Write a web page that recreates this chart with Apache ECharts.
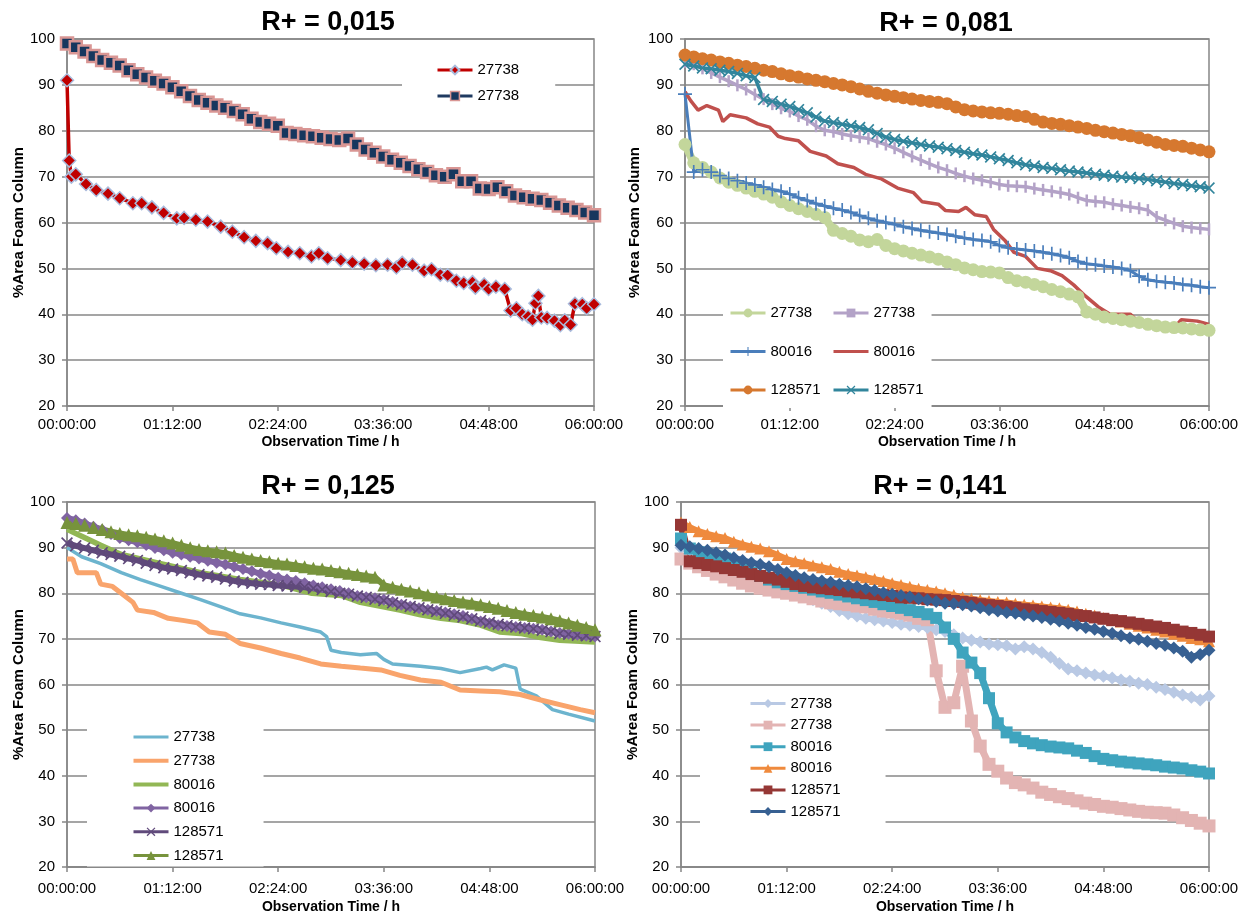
<!DOCTYPE html>
<html>
<head>
<meta charset="utf-8">
<script src="https://cdn.jsdelivr.net/npm/echarts@6/dist/echarts.min.js"></script>
<style>
html,body{margin:0;padding:0;background:#fff;}
#chart{width:1252px;height:918px;}
</style>
</head>
<body>
<div id="chart"></div>
<script>
// ---------- DATA ----------
const panelTitles = ['R+ = 0,015', 'R+ = 0,081', 'R+ = 0,125', 'R+ = 0,141'];
const timeTickLabels = ['00:00:00', '01:12:00', '02:24:00', '03:36:00', '04:48:00', '06:00:00'];
const yAxisTitle = '%Area Foam Column';
const xAxisTitle = 'Observation Time / h';

// shared sampling times (minutes)
const T = [0,6,12,18,24,30,36,42,48,54,
  60,66,72,78,84,90,96,102,108,114,
  120,126,132,138,144,150,156,162,168,174,
  180,186,192,198,204,210,216,222,228,234,
  240,246,252,258,264,270,276,282,288,294,
  300,306,312,318,324,330,336,342,348,354,
  360];

// Panel 1
const p1RedT = [0,1.5,3,6,13,20,28,36,45,51, 58,66,75,80,88,96,105,113,121,129,
  137,143,151,159,167,172,178,187,195,203, 211,219,225,229,236,244,249,255,260,266,
  271,277,279,285,288,293,299,303,307,311, 315,318,320,322,324,328,333,337,340,344,
  347,352,355,360];
const p1RedV = [91,73.5,70,70.5,68.4,67.1,66.3,65.3,64.2,64.2, 63.3,62.1,60.9,61,60.6,60.2,59.1,58,56.8,56,
  55.5,54.4,53.6,53.3,52.6,53.3,52.2,51.8,51.3,51, 50.7,50.8,50.2,51.2,50.8,49.5,49.8,48.6,48.5,47.3,
  46.8,47,45.8,46.5,45.5,46,45.5,40.8,41.3,40, 39.5,38.8,42.4,44,39.3,39.2,38.6,37.6,38.7,37.7,
  42.3,42.2,41.3,42.2];
const p1Navy = [99,98.2,97.3,96.3,95.4,94.8,94.2,93.2,92.3,91.6,
  90.9,90.3,89.5,88.6,87.6,86.7,86.1,85.5,85,84.3,
  83.6,82.6,81.9,81.5,81.1,79.5,79.3,79,78.8,78.5,
  78.2,78,78.3,77,75.9,75.2,74.4,73.7,73,72.3,
  71.6,71,70.3,70,70.5,69,69,67.4,67.3,67.7,
  66.8,65.9,65.5,65.2,64.9,64.3,63.7,63.2,62.7,62.2,
  61.6];

// Panel 2
const p2Green = [77,73,72,71,69.7,68.8,68.1,67.5,66.8,66.2,
  65.5,64.5,63.7,63,62.4,61.8,61.1,58.3,57.6,57,
  56.2,55.8,56.3,55,54.3,53.8,53.3,52.9,52.5,52,
  51.4,50.8,50.1,49.7,49.3,49.2,49,48,47.3,47,
  46.5,46,45.4,44.9,44.4,43.8,40.5,40,39.4,39.1,
  38.8,38.5,38.2,37.8,37.5,37.2,37.1,37,36.8,36.6,
  36.5];
const p2Lilac = [95,94.5,93.6,92.6,91.7,90.8,89.9,89,87.9,86.9,
  85.8,84.9,84.2,83.2,82.4,81,80.1,79.8,79.3,78.9,
  78.6,78.3,77.6,77,76.2,75.3,74.4,73.6,72.8,72,
  71.4,70.7,70.1,69.6,69.2,68.8,68.3,68,67.9,67.8,
  67.4,67.1,66.8,66.5,66.1,65.4,64.8,64.6,64.4,64,
  63.7,63.4,63.1,62.7,61.2,60.5,59.8,59.2,58.9,58.7,
  58.5];
const p2Blue = [88,71,71.5,71,70.2,69.6,69.1,68.6,68.2,67.7,
  67.2,66.8,66.2,65.4,64.8,64.1,63.6,63.1,62.7,62.2,
  61.5,60.9,60.4,60,59.6,59.1,58.7,58.3,58,57.7,
  57.4,57,56.6,56.3,56.1,55.8,55,54.5,54.2,54,
  53.8,53.5,53.2,52.8,52.3,51.5,51,50.8,50.5,50.3,
  50,49.5,48.3,47.5,47.2,47,46.8,46.5,46.3,46,
  45.8];
const p2RedT = [0,4,9,15,23,26,31,42,50,58, 64,69,78,86,97,105,116,124,135,146,
  157,163,174,179,188,193,199,207,212,220, 226,234,242,251,259,267,275,284,292,306,
  311,317,328,336,341,352,360];
const p2RedV = [88.5,86.5,84.5,85.5,84.5,82,83.5,82.8,81.5,80.8, 78.8,78.3,77.8,75.5,74.5,72.8,72,70.5,69.5,67.5,
  66.5,64.5,64,62.6,62.4,63.3,61.7,61.3,58.5,56, 53.5,52.6,50,49.5,48.4,46.4,44,41.6,40,40,
  38.5,38,37.3,37,38.8,38.5,37.8];
const p2Orange = [96.5,96.1,95.7,95.4,95,94.7,94.3,94,93.6,93.2,
  92.9,92.4,92,91.7,91.3,91,90.7,90.3,90,89.6,
  89.1,88.6,88.2,87.8,87.5,87.2,86.9,86.6,86.4,86.2,
  85.9,85.2,84.6,84.3,84.1,83.9,83.8,83.6,83.3,83.1,
  82.5,81.9,81.6,81.4,81.1,80.8,80.5,80.1,79.8,79.5,
  79.2,78.9,78.5,78,77.5,77,76.8,76.6,76.2,75.8,
  75.4];
const p2Teal = [94.5,94.1,93.7,93.5,93.2,92.9,92.5,92,91.6,86.8,
  86.4,85.8,85.3,84.6,83.9,83,82.1,81.8,81.4,81.1,
  80.7,80.2,79.4,78.6,78.1,77.7,77.4,77,76.7,76.4,
  76.1,75.7,75.3,75,74.7,74.3,73.9,73.5,73,72.6,
  72.3,72,71.8,71.5,71.2,71,70.8,70.5,70.3,70.1,
  69.9,69.8,69.6,69.4,69.1,68.8,68.5,68.3,68,67.8,
  67.5];

// Panel 3
const p3LBlueT = [0,10,23,37,50,64,78,91,105,118, 132,146,159,173,177,180,187,200,211,216,
  222,241,255,268,282,286,290,298,306,309, 320,331,342,360];
const p3LBlueV = [90,88,86.5,84.5,83,81.5,80,78.6,77,75.5, 74.6,73.5,72.6,71.5,70.5,67.5,67,66.5,66.8,65.5,
  64.5,64,63.5,62.6,63.5,63.8,63.2,64.3,63.6,59, 57.5,54.5,53.5,52];
const p3OrangeT = [0,4,7,20,23,31,37,45,48,59, 69,80,89,97,108,118,132,146,159,173,
  187,200,214,227,241,255,268,282,295,309, 323,336,350,360];
const p3OrangeV = [87.5,87.5,84.5,84.5,82,81.5,80,78,76.3,75.8, 74.5,74,73.5,71.5,71,69,68,66.8,65.8,64.5,
  64,63.6,63.2,62,61,60.5,58.8,58.6,58.4,57.8, 56.6,55.6,54.5,53.8];
const p3GreenT = [0,10,23,37,64,91,118,146,167,187,200,227,241,255,268,282,295,309,323,336,360];
const p3GreenV = [94,92.5,90.5,88.5,86.5,84.5,83,81.8,80,79.5,78,76.3,75.3,74.5,74,73,71.5,71.2,70.3,69.7,69.3];
const p3Purple = [96.5,96,95.3,94.6,93.9,93,92.1,91.6,91.2,90.6,
  89.9,89.4,88.9,88.5,88,87.6,87.1,86.7,86.3,85.8,
  85.3,84.8,84.3,83.9,83.4,83,82.7,82.2,81.7,81.3,
  80.9,80.5,80,79.4,79.1,78.9,78.6,78.1,77.5,77.1,
  76.7,76.4,76.1,75.8,75.4,75,74.4,73.8,73.4,73,
  72.8,72.6,72.4,72.2,72,71.6,71.3,71.1,70.9,70.7,
  70.5];
const p3DPurple = [91,90.4,89.9,89.4,88.9,88.5,88.1,87.6,87.2,86.6,
  86.1,85.6,85.3,85,84.5,84.1,83.8,83.5,83.1,82.7,
  82.4,82.2,82,81.9,81.7,81.6,81.5,81.3,81.1,80.8,
  80.4,80,79.8,79.4,79.1,78.7,78.4,77.9,77.5,77.1,
  76.8,76.4,76,75.6,75.2,74.8,74.4,74,73.6,73.2,
  72.9,72.6,72.4,72.2,71.9,71.6,71.2,71,70.8,70.7,
  70.5];
const p3Olive = [95.5,95.3,94.9,94.4,94,93.5,93.1,92.8,92.6,92.3,
  91.9,91.5,91,90.5,90,89.6,89.3,89.1,88.8,88.3,
  87.9,87.5,87.2,86.9,86.6,86.4,86.1,85.8,85.5,85.3,
  85,84.7,84.4,84.1,83.8,83.5,81.8,81.3,80.9,80.5,
  80.1,79.6,79.2,78.8,78.4,78.1,77.8,77.5,77.1,76.7,
  76.2,75.8,75.4,75.1,74.8,74.4,74,73.5,73,72.5,
  72];

// Panel 4
const p4Gray = [90,89.5,89,88.4,87.5,86.6,85.5,84.3,83.6,82.9,
  82.2,81.6,81,80.2,79.4,78.6,77.8,77.1,76.2,75.5,
  75,74.5,74.2,73.9,73.6,73.2,73,72.7,72.5,72,
  71.6,70.9,70.2,69.7,69.3,68.9,68.7,68.5,67.8,68.3,
  67.8,67,66,64.6,63.4,63,62.5,62.1,61.8,61.4,
  61,60.7,60.3,60,59.4,58.9,58.3,57.7,57.2,56.6,
  57.5];
const p4Pink = [87.5,86.6,85.8,85,84.2,83.6,82.9,82.2,81.6,81.1,
  80.7,80.3,80,79.6,79.2,78.8,78.3,77.9,77.7,77.5,
  77.2,77,76.5,76.1,75.9,75.6,75.2,74.5,74.2,63,
  55,56,64,52,46.5,42.5,41,39.5,38.5,38,
  37.3,36.4,35.9,35.4,35,34.5,34,33.7,33.3,33.1,
  32.8,32.5,32.2,32,31.9,31.8,31.4,30.8,30.2,29.6,
  29];
const p4Teal = [92,89.8,89,88.4,88,87.6,86.4,85.3,84.5,83.8,
  83,82.4,82,81.6,81.2,80.8,80.4,80.1,79.7,79.3,
  78.9,78.5,78.1,77.6,77.2,76.8,76.3,75.9,75.4,74.6,
  72.5,70,67,64.8,62.5,57,51.5,49.5,48.4,47.6,
  47.1,46.7,46.4,46.2,46,45.5,45,44.3,43.7,43.4,
  43.1,42.9,42.7,42.5,42.3,42,41.8,41.6,41.2,40.9,
  40.5];
const p4Orange = [95.5,94.5,93.6,93,92.5,92.1,91.3,90.7,90.2,89.8,
  89.2,88.4,87.5,87,86.6,86.1,85.7,85.3,84.7,84.2,
  83.9,83.5,83.1,82.7,82.2,81.8,81.4,81,80.7,80.4,
  80,79.6,79.1,78.8,78.5,78.3,78.1,78,77.7,77.5,
  77.3,77.1,76.9,76.7,76.4,76,75.5,75.1,74.6,74.2,
  73.8,73.3,72.9,72.5,72,71.6,71.1,70.7,70.2,69.9,
  69.5];
const p4DRed = [95,87,86.6,86.2,85.9,85.5,85.1,84.7,84.2,83.8,
  83.4,83,82.5,82,81.6,81.3,81.1,80.9,80.7,80.4,
  80.2,80,79.8,79.6,79.4,79.1,79,78.9,78.7,78.6,
  78.5,78.3,78.1,77.9,77.6,77.4,77.2,77,76.8,76.5,
  76.3,76.1,75.9,75.7,75.5,75.2,75,74.7,74.4,74.1,
  73.9,73.6,73.3,73,72.7,72.4,72,71.6,71.3,70.9,
  70.5];
const p4DBlue = [90.5,90.2,89.8,89.4,88.9,88.4,87.8,87.2,86.7,86.3,
  85.8,85.2,84.5,83.9,83.4,83,82.7,82.4,82,81.7,
  81.4,81,80.6,80.1,79.8,79.5,79.2,78.8,78.5,78.2,
  77.8,77.7,77.5,77.2,76.8,76.4,76.1,75.8,75.6,75.3,
  75,74.7,74.3,73.9,73.4,73,72.5,72.1,71.6,71.2,
  70.7,70.2,69.9,69.5,69,68.6,68,67.3,66,66.6,
  67.5];

// ---------- CHART ----------
const FONT = 'Liberation Sans';
const GRAY = '#878787';
const X_SHAPE = 'path://M0,1L1,0L5,4L9,0L10,1L6,5L10,9L9,10L5,6L1,10L0,9L4,5Z';
const PLUS_SHAPE = 'path://M4.4,0H5.6V4.4H10V5.6H5.6V10H4.4V5.6H0V4.4H4.4Z';
const LINE_ICON3 = 'path://M0,0H35V3H0Z';
const LINE_ICON4 = 'path://M0,0H35V4H0Z';

const grids = [
  {left: 67, top: 39, width: 527, height: 367},
  {left: 685, top: 39, width: 524, height: 367},
  {left: 67, top: 502, width: 528, height: 365},
  {left: 681, top: 502, width: 528, height: 365}
];
const yNameGaps = [41, 43, 41, 39];
const xNameGaps = [29, 29, 33, 33];
const xLabelMargins = [11, 11, 14, 14];

function zip(ts, vs) { return ts.map((t, i) => [t, vs[i]]); }

function mk(gi, name, ts, vs, color, lw, symbol, size, extra) {
  const s = {
    type: 'line', name: name, xAxisIndex: gi, yAxisIndex: gi,
    data: zip(ts, vs),
    symbol: symbol || 'none', symbolSize: size || 8,
    showSymbol: !!symbol,
    lineStyle: {color: color, width: lw},
    itemStyle: {color: color},
    emphasis: {disabled: true},
    animation: false
  };
  if (extra) {
    if (extra.borderColor) { s.itemStyle.borderColor = extra.borderColor; s.itemStyle.borderWidth = extra.borderWidth || 1.5; }
    if (extra.itemColor) s.itemStyle.color = extra.itemColor;
    if (extra.lineColor) s.lineStyle.color = extra.lineColor;
  }
  return s;
}

const series = [
  mk(0, 'p1|27738|a', p1RedT, p1RedV, '#C00000', 3.5, 'diamond', 13, {borderColor: '#A9BCDD', borderWidth: 1.5}),
  mk(0, 'p1|27738|b', T, p1Navy, '#1F3A60', 9, 'rect', 12, {itemColor: '#17375E', lineColor: '#D99694', borderColor: '#D99694', borderWidth: 2.5}),

  mk(1, 'p2|27738|a', T, p2Green, '#C3D69B', 8, 'circle', 13),
  mk(1, 'p2|27738|b', T, p2Lilac, '#B3A2C7', 3.5, 'rect', [2.5, 12]),
  mk(1, 'p2|80016|a', T, p2Blue, '#4A7EBB', 3, PLUS_SHAPE, 14),
  mk(1, 'p2|80016|b', p2RedT, p2RedV, '#C0504D', 3.5, null),
  mk(1, 'p2|128571|a', T, p2Orange, '#D6782F', 8, 'circle', 13),
  mk(1, 'p2|128571|b', T, p2Teal, '#31859C', 3.5, X_SHAPE, 12),

  mk(2, 'p3|27738|a', p3LBlueT, p3LBlueV, '#6CB4CE', 3.5, null),
  mk(2, 'p3|27738|b', p3OrangeT, p3OrangeV, '#F9A46C', 5, null),
  mk(2, 'p3|80016|a', p3GreenT, p3GreenV, '#92B755', 5.5, null),
  mk(2, 'p3|80016|b', T, p3Purple, '#8064A2', 6, 'diamond', 12),
  mk(2, 'p3|128571|a', T, p3DPurple, '#604A7B', 6, X_SHAPE, 12),
  mk(2, 'p3|128571|b', T, p3Olive, '#77933C', 6, 'triangle', 13),

  mk(3, 'p4|27738|a', T, p4Gray, '#B9C9E4', 6, 'diamond', 13),
  mk(3, 'p4|27738|b', T, p4Pink, '#E3B4B3', 7, 'rect', 13),
  mk(3, 'p4|80016|a', T, p4Teal, '#3FA4BE', 7, 'rect', 12),
  mk(3, 'p4|80016|b', T, p4Orange, '#EF8A3D', 6, 'triangle', 12),
  mk(3, 'p4|128571|a', T, p4DRed, '#953735', 7, 'rect', 12),
  mk(3, 'p4|128571|b', T, p4DBlue, '#376092', 6, 'diamond', 13)
];

const xAxes = grids.map((g, i) => ({
  gridIndex: i, type: 'value', min: 0, max: 360, interval: 72,
  name: xAxisTitle, nameLocation: 'middle', nameGap: xNameGaps[i],
  nameTextStyle: {fontFamily: FONT, fontWeight: 'bold', fontSize: 14, color: '#000'},
  axisLine: {show: true, lineStyle: {color: GRAY, width: 1.5}},
  axisTick: {show: true, length: 5, lineStyle: {color: GRAY, width: 1.5}},
  axisLabel: {fontFamily: FONT, fontSize: 15, color: '#000', margin: xLabelMargins[i],
    formatter: v => timeTickLabels[Math.round(v / 72)]},
  splitLine: {show: false}
}));
const yAxes = grids.map((g, i) => ({
  gridIndex: i, type: 'value', min: 20, max: 100, interval: 10,
  name: yAxisTitle, nameLocation: 'middle', nameRotate: 90, nameGap: yNameGaps[i],
  nameTextStyle: {fontFamily: FONT, fontWeight: 'bold', fontSize: 15, color: '#000'},
  axisLine: {show: true, lineStyle: {color: GRAY, width: 1.5}},
  axisTick: {show: true, length: 5, lineStyle: {color: GRAY, width: 1.5}},
  axisLabel: {fontFamily: FONT, fontSize: 15, color: '#000', margin: 12},
  splitLine: {show: true, lineStyle: {color: GRAY, width: 1.5}}
}));

const titles = panelTitles.map((t, i) => ({
  text: t, left: [328, 946, 328, 940][i], top: [9, 10, 473, 473][i], textAlign: 'center', padding: 0,
  textStyle: {fontFamily: FONT, fontWeight: 'bold', fontSize: 27, color: '#000'}
}));

const legText = {fontFamily: FONT, fontSize: 15, color: '#000', lineHeight: 16};
const legFmt = n => n.split('|')[1];
const legBase = {orient: 'vertical', backgroundColor: '#fff', selectedMode: false, formatter: legFmt,
  textStyle: legText, itemWidth: 35, itemHeight: 11, z: 10, lineStyle: {width: 3}};
const legends = [
  Object.assign({}, legBase, {data: ['p1|27738|a',
    {name: 'p1|27738|b', lineStyle: {color: '#1F3A60', width: 3}, itemStyle: {color: '#17375E', borderColor: '#D99694', borderWidth: 1.5}}],
    left: 402, top: 57, padding: [5, 36, 10, 34], itemGap: 10}),
  Object.assign({}, legBase, {data: ['p2|27738|a', 'p2|80016|a', 'p2|128571|a'], left: 723, top: 293,
    padding: [12, 20, 10, 6], itemGap: 22.5}),
  Object.assign({}, legBase, {data: ['p2|27738|b', {name: 'p2|80016|b', icon: LINE_ICON3}, 'p2|128571|b'], left: 812, top: 293,
    padding: [12, 8, 10, 20], itemGap: 22.5}),
  Object.assign({}, legBase, {data: [{name: 'p3|27738|a', icon: LINE_ICON3}, {name: 'p3|27738|b', icon: LINE_ICON4},
    {name: 'p3|80016|a', icon: LINE_ICON4}, 'p3|80016|b', 'p3|128571|a', 'p3|128571|b'],
    left: 87, top: 720, padding: [9, 40, 3, 45], itemGap: 7.7}),
  Object.assign({}, legBase, {data: ['p4|27738|a', 'p4|27738|b', 'p4|80016|a', 'p4|80016|b', 'p4|128571|a', 'p4|128571|b'],
    left: 700, top: 690, padding: [6, 45, 8, 49], itemGap: 6.6, textStyle: Object.assign({}, legText, {lineHeight: 15})})
];

const chart = echarts.init(document.getElementById('chart'), null, {renderer: 'canvas'});
chart.setOption({
  backgroundColor: '#fff',
  animation: false,
  title: titles,
  legend: legends,
  grid: grids.map(g => Object.assign({show: true, borderColor: GRAY, borderWidth: 1.5,
    backgroundColor: 'transparent', containLabel: false, outerBoundsMode: 'none'}, g)),
  xAxis: xAxes,
  yAxis: yAxes,
  series: series
});
</script>
</body>
</html>
